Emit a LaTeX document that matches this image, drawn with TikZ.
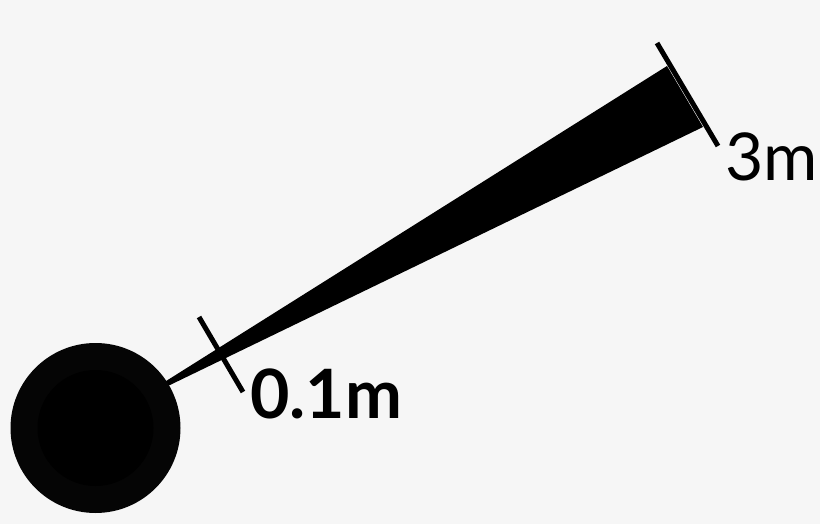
\documentclass[tikz,border=0pt]{standalone}
\usepackage{fontspec}
\setmainfont{Lato}
\usetikzlibrary{positioning}
\tikzset{
    ballout/.style = {circle, minimum size=170pt, inner sep=0pt, fill=black!98},
    ballin/.style = {circle, minimum size=116pt, inner sep=0pt, fill=black},
    beam/.style = {fill=black},
    tickn/.style = {-,line width=5pt,black},
    labeln/.style = {anchor=base west, inner sep=0pt, font=\bfseries\fontsize{68}{68}\selectfont, text=black},
    labelr/.style = {anchor=base west, inner sep=0pt, font=\fontsize{66}{66}\selectfont, text=black}
}

\begin{document}
\begin{tikzpicture}[x=1pt,y=-1pt]
\fill[gray!7] (0,0) rectangle (820,524);
\useasboundingbox (0,0) rectangle (820,524);
% the beam
\coordinate (apexa) at (141.3,396.6);
\coordinate (apexb) at (142.3,398.4);
\coordinate (enda) at (667,66);
\coordinate (endb) at (703,127);
\fill[beam] (apexa) -- (enda) -- (endb) -- (apexb) -- cycle;
% the ball
\node[ballout] at (95.5, 428.0) (ball) {};
\node[ballin] at (95.5, 428.0) (core) {};
% ticks
\coordinate (neara) at (199,317);
\coordinate (nearb) at (243,392);
\coordinate (fara) at (657,43);
\coordinate (farb) at (718,146);
\draw[tickn] (neara) -- (nearb);
\draw[tickn] (fara) -- (farb);
% labels
\node[labeln] at (250,418) (near) {0.1m};
\node[labelr] at (725,181) (far) {3m};
\end{tikzpicture}
\end{document}
